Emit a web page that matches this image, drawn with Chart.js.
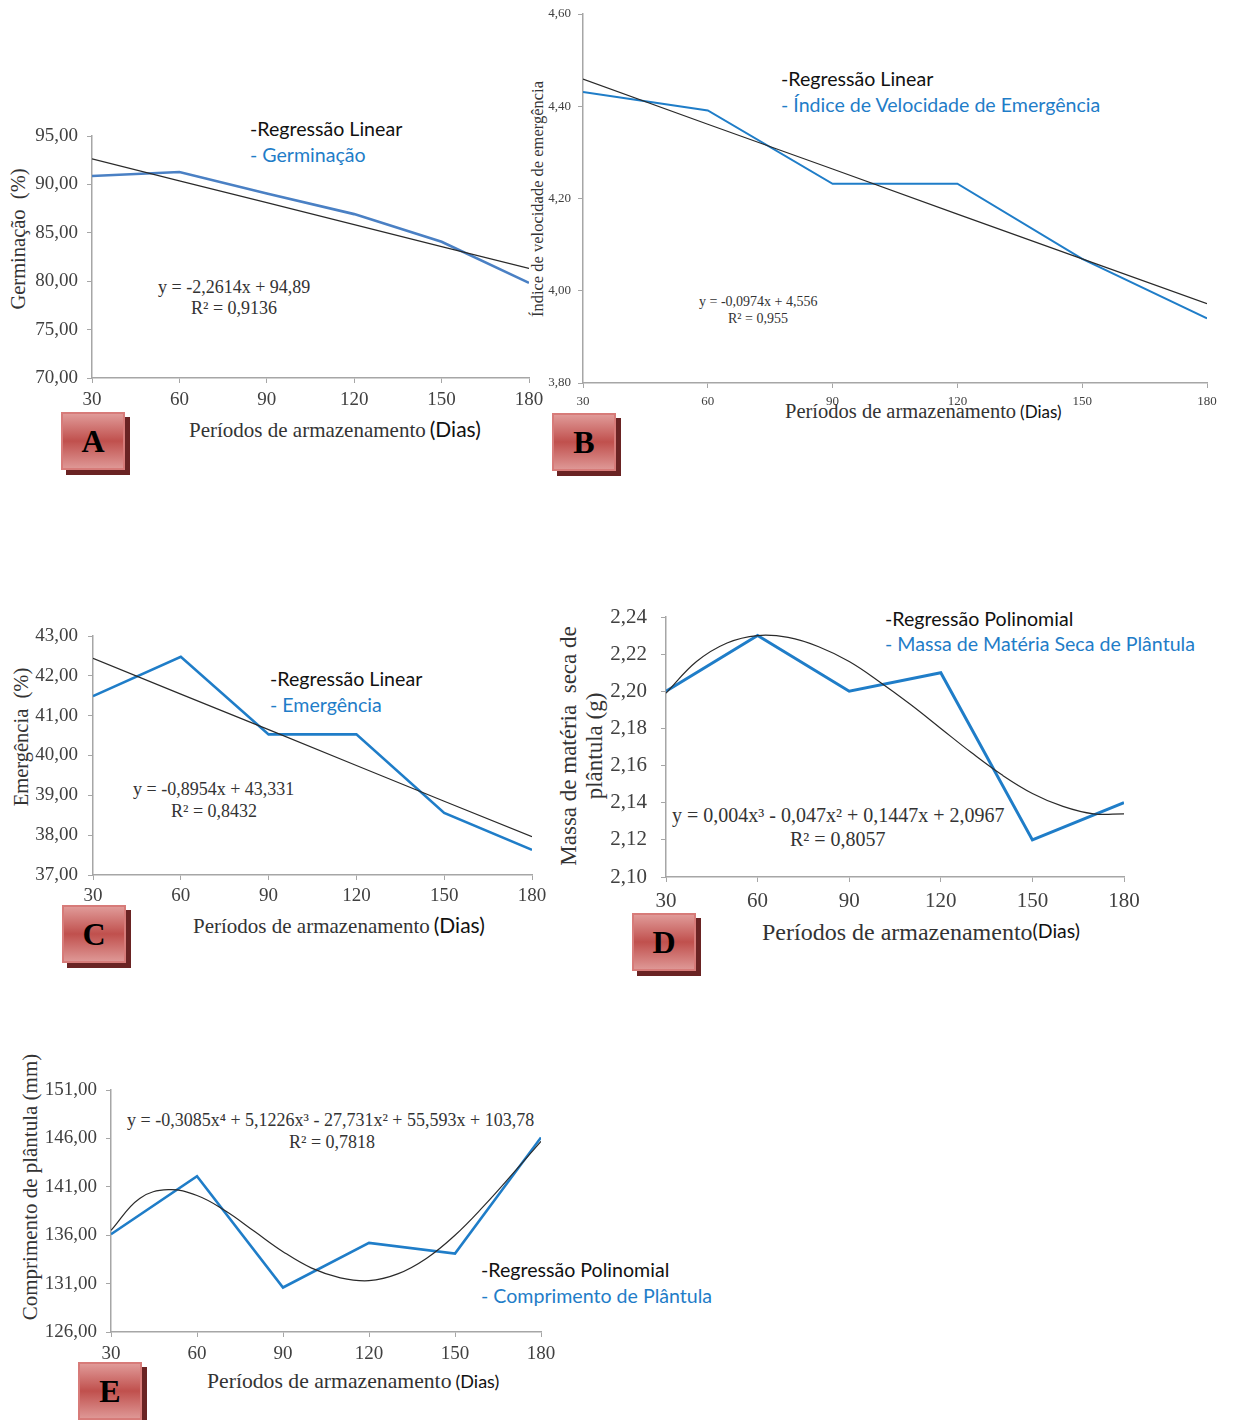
<!DOCTYPE html>
<html><head><meta charset="utf-8">
<script src="https://cdn.jsdelivr.net/npm/chart.js@4.4.1/dist/chart.umd.min.js"></script>
<style>
html,body{margin:0;padding:0;background:#fff;}
body{width:1236px;height:1420px;position:relative;overflow:hidden;}
canvas{position:absolute;}
.t{position:absolute;white-space:nowrap;transform:translateY(-50%);line-height:1;}
.r{position:absolute;white-space:nowrap;transform:translate(-50%,-50%) rotate(-90deg);line-height:1.15;text-align:center;}
.serif{font-family:"Liberation Serif","DejaVu Serif",serif;color:#333;}
.sans{font-family:Lato,"Liberation Sans",sans-serif;}
.blk{color:#111;}
.blu{color:#1f7dc8;}
.lg{font-size:19.6px;}
.box{position:absolute;width:60px;height:54px;border:2px solid #d77b79;background:linear-gradient(#e09a98,#c0504d 50%,#de9795);box-shadow:5px 5px 0 #6a2323;font:bold 32px "Liberation Serif",serif;color:#000;display:flex;align-items:center;justify-content:center;}
</style></head>
<body>
<!-- Panel A texts -->
<div class="t sans blk lg" style="left:250px;top:129px">-Regressão Linear</div>
<div class="t sans blu lg" style="left:250px;top:155px">- Germinação</div>
<div class="t serif" style="left:158px;top:287px;font-size:18px">y = -2,2614x + 94,89</div>
<div class="t serif" style="left:191px;top:308px;font-size:18px">R² = 0,9136</div>
<div class="r serif" style="left:19px;top:239px;font-size:20.5px">Germinação&nbsp; (%)</div>
<div class="t" style="left:189px;top:429px"><span class="serif" style="font-size:21px">Períodos de armazenamento</span> <span class="sans" style="font-size:21px;color:#111">(Dias)</span></div>
<div class="box" style="left:61px;top:412px">A</div>

<!-- Panel B texts -->
<div class="t sans blk lg" style="left:781px;top:79px">-Regressão Linear</div>
<div class="t sans blu lg" style="left:781px;top:105px">- Índice de Velocidade de Emergência</div>
<div class="t serif" style="left:699px;top:302px;font-size:14px">y = -0,0974x + 4,556</div>
<div class="t serif" style="left:728px;top:319px;font-size:14px">R² = 0,955</div>
<div class="r serif" style="left:538px;top:199px;font-size:16.5px">Índice de velocidade de emergência</div>
<div class="t" style="left:785px;top:411px"><span class="serif" style="font-size:20.5px">Períodos de armazenamento</span> <span class="sans" style="font-size:17px;color:#111">(Dias)</span></div>
<div class="box" style="left:552px;top:413px">B</div>

<!-- Panel C texts -->
<div class="t sans blk lg" style="left:270px;top:679px">-Regressão Linear</div>
<div class="t sans blu lg" style="left:270px;top:705px">- Emergência</div>
<div class="t serif" style="left:133px;top:789px;font-size:18px">y = -0,8954x + 43,331</div>
<div class="t serif" style="left:171px;top:811px;font-size:18px">R² = 0,8432</div>
<div class="r serif" style="left:22px;top:737px;font-size:20.5px">Emergência&nbsp; (%)</div>
<div class="t" style="left:193px;top:925px"><span class="serif" style="font-size:21px">Períodos de armazenamento</span> <span class="sans" style="font-size:21px;color:#111">(Dias)</span></div>
<div class="box" style="left:62px;top:905px">C</div>

<!-- Panel D texts -->
<div class="t sans blk lg" style="left:885px;top:619px">-Regressão Polinomial</div>
<div class="t sans blu lg" style="left:885px;top:644px">- Massa de Matéria Seca de Plântula</div>
<div class="t serif" style="left:672px;top:815px;font-size:20px">y = 0,004x³ - 0,047x² + 0,1447x + 2,0967</div>
<div class="t serif" style="left:790px;top:839px;font-size:20px">R² = 0,8057</div>
<div class="r serif" style="left:582px;top:746px;font-size:23px">Massa de matéria&nbsp; seca de<br>plântula (g)</div>
<div class="t" style="left:762px;top:932px"><span class="serif" style="font-size:24px">Períodos de armazenamento</span><span class="sans" style="font-size:19.5px;color:#111;position:relative;top:-2px">(Dias)</span></div>
<div class="box" style="left:632px;top:913px">D</div>

<!-- Panel E texts -->
<div class="t sans blk lg" style="left:481px;top:1270px">-Regressão Polinomial</div>
<div class="t sans blu lg" style="left:481px;top:1296px">- Comprimento de Plântula</div>
<div class="t serif" style="left:127px;top:1120px;font-size:18px">y = -0,3085x⁴ + 5,1226x³ - 27,731x² + 55,593x + 103,78</div>
<div class="t serif" style="left:289px;top:1142px;font-size:18px">R² = 0,7818</div>
<div class="r serif" style="left:30px;top:1187px;font-size:21px">Comprimento de plântula (mm)</div>
<div class="t" style="left:207px;top:1382px"><span class="serif" style="font-size:21.7px">Períodos de armazenamento</span> <span class="sans" style="font-size:18px;color:#111">(Dias)</span></div>
<div class="box" style="left:78px;top:1362px">E</div>

<script>
// ---- data ----
const dias = [30, 60, 90, 120, 150, 180];
const diasCurva = [30, 40, 50, 60, 70, 80, 90, 100, 110, 120, 130, 140, 150, 160, 170, 180];

const germinacao = [90.86, 91.28, 89.07, 86.93, 84.07, 79.83];
const germinacaoReg = [92.63, 90.37, 88.11, 85.85, 83.58, 81.32];

const ive = [4.431, 4.391, 4.232, 4.232, 4.069, 3.94];
const iveReg = [4.459, 4.361, 4.264, 4.166, 4.069, 3.972];

const emergencia = [41.49, 42.48, 40.53, 40.53, 38.56, 37.63];
const emergenciaReg = [42.44, 41.54, 40.65, 39.75, 38.85, 37.96];

const massaSeca = [2.200, 2.230, 2.200, 2.210, 2.120, 2.140];
const massaSecaReg = [2.199, 2.216, 2.226, 2.230, 2.229, 2.224, 2.216, 2.205, 2.193, 2.180, 2.167, 2.155, 2.145, 2.138, 2.134, 2.134];

const comprimento = [136.1, 142.1, 130.6, 135.2, 134.1, 146.1];
const comprimentoReg = [136.5, 139.8, 140.7, 140.1, 138.5, 136.4, 134.3, 132.6, 131.6, 131.3, 132.0, 133.6, 136.0, 139.0, 142.3, 145.7];

const xTicks = [30, 60, 90, 120, 150, 180];
const yTicksA = [70, 75, 80, 85, 90, 95];
const yTicksB = [3.8, 4.0, 4.2, 4.4, 4.6];
const yTicksC = [37, 38, 39, 40, 41, 42, 43];
const yTicksD = [2.10, 2.12, 2.14, 2.16, 2.18, 2.20, 2.22, 2.24];
const yTicksE = [126, 131, 136, 141, 146, 151];

// ---- drawing ----
const fmt = v => Number(v).toFixed(2).replace('.', ',');
const pts = (xs, ys) => xs.map((x, i) => ({x: x, y: ys[i]}));

function panel(p) {
  const L = 100, T = 40, R = 40, B = 45;
  const w = p.r - p.l, h = p.b - p.t;
  const cv = document.createElement('canvas');
  cv.width = w + L + R; cv.height = h + T + B;
  cv.style.left = (p.l - L) + 'px'; cv.style.top = (p.t - T) + 'px';
  cv.style.width = cv.width + 'px'; cv.style.height = cv.height + 'px';
  document.body.appendChild(cv);
  const axisCol = '#a6a6a6';
  new Chart(cv, {
    type: 'line',
    data: {datasets: [
      {data: pts(p.regX, p.regY), borderColor: '#2a2a2a', borderWidth: 1.2, pointRadius: 0, tension: p.smooth ? 0.4 : 0, fill: false},
      {data: pts(dias, p.vals), borderColor: p.blue, borderWidth: p.bw, pointRadius: 0, tension: 0, fill: false}
    ]},
    options: {
      responsive: false, animation: false,
      layout: {padding: {top: T, right: R, left: 0, bottom: 0}},
      plugins: {legend: {display: false}, tooltip: {enabled: false}},
      scales: {
        x: {
          type: 'linear', min: 30, max: 180,
          afterFit: s => { s.height = B; },
          afterBuildTicks: s => { s.ticks = xTicks.map(v => ({value: v})); },
          ticks: {callback: v => String(v), font: {family: 'Liberation Serif', size: p.fs}, color: '#404040', padding: p.xpad, maxRotation: 0, autoSkip: false},
          grid: {display: true, drawOnChartArea: false, drawTicks: true, tickLength: 5, color: axisCol},
          border: {color: axisCol, width: 1.5}
        },
        y: {
          type: 'linear', min: p.yt[0], max: p.yt[p.yt.length - 1],
          afterFit: s => { s.width = L; },
          afterBuildTicks: s => { s.ticks = p.yt.map(v => ({value: v})); },
          ticks: {callback: v => fmt(v), font: {family: 'Liberation Serif', size: p.fs}, color: '#404040', padding: p.ypad, autoSkip: false},
          grid: {display: true, drawOnChartArea: false, drawTicks: true, tickLength: 5, color: axisCol},
          border: {color: axisCol, width: 1.5}
        }
      }
    }
  });
}

panel({l: 92, r: 529, t: 136, b: 378, vals: germinacao, regX: dias, regY: germinacaoReg, yt: yTicksA, fs: 19, xpad: 6, ypad: 9, blue: '#4a80c4', bw: 2.6});
panel({l: 583, r: 1207, t: 14, b: 383, vals: ive, regX: dias, regY: iveReg, yt: yTicksB, fs: 13, xpad: 6, ypad: 7, blue: '#1f7dc8', bw: 2});
panel({l: 93, r: 532, t: 636, b: 875, vals: emergencia, regX: dias, regY: emergenciaReg, yt: yTicksC, fs: 19, xpad: 5, ypad: 10, blue: '#1f7dc8', bw: 2.6});
panel({l: 666, r: 1124, t: 617, b: 877, vals: massaSeca, regX: diasCurva, regY: massaSecaReg, yt: yTicksD, fs: 21, xpad: 7, ypad: 14, blue: '#1f7dc8', bw: 3, smooth: true});
panel({l: 111, r: 541, t: 1090, b: 1332, vals: comprimento, regX: diasCurva, regY: comprimentoReg, yt: yTicksE, fs: 19, xpad: 6, ypad: 9, blue: '#1f7dc8', bw: 2.6, smooth: true});
</script>
</body></html>
